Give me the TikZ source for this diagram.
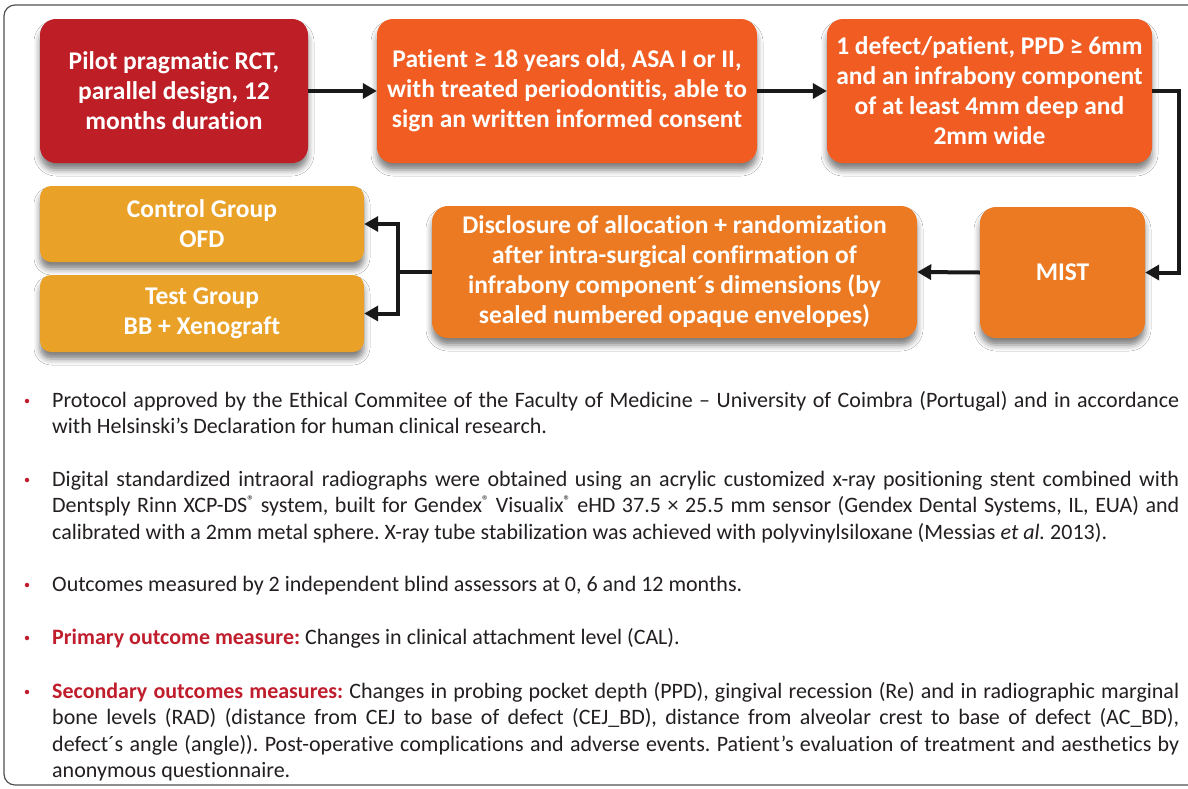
\documentclass[tikz,border=0pt]{standalone}
\usepackage{fontspec}
\setmainfont[Ligatures=NoCommon, Contextuals=NoAlternate]{Carlito}
\usetikzlibrary{arrows.meta,shadows.blur}
\definecolor{cRed}{RGB}{190,30,38}
\definecolor{cOrA}{RGB}{240,92,34}
\definecolor{cOrB}{RGB}{236,122,35}
\definecolor{cGold}{RGB}{233,161,40}
\definecolor{cTxtRed}{RGB}{192,30,45}
\definecolor{cFrame}{RGB}{80,80,80}
\definecolor{cBody}{RGB}{35,31,32}
\newcommand{\regmark}{\raisebox{0.3em}{\fontsize{14}{14}\selectfont ®}}
\frenchspacing
\begin{document}
\begin{tikzpicture}[x=1pt,y=-1pt,
  flowbox/.style={rounded corners=16pt, inner sep=0pt, align=center, text=white,
    font=\bfseries\fontsize{25.5}{30}\selectfont,
    blur shadow={shadow xshift=0pt, shadow yshift=-7pt, shadow blur radius=6pt, shadow opacity=50}},
  groupbox/.style={flowbox, rounded corners=11pt},
  arr/.style={line width=4pt, draw=black!90, -{Triangle[length=14pt,width=15pt]}},
  plainline/.style={line width=4pt, draw=black!90},
  bodytext/.style={anchor=base west, inner sep=0pt, text width=1127pt, align=justify,
    text=cBody, font=\fontsize{22}{26.5}\selectfont},
  bulletdot/.style={circle, fill=cTxtRed, inner sep=0pt, minimum size=4.5pt}
]
\useasboundingbox (0,0) rectangle (1188,788);
\fill[white] (0,0) rectangle (1188,788);
\draw[cFrame, line width=1.2pt, rounded corners=11pt] (1188,5) -- (4,5) -- (4,785) -- (1188,785);

% boxes
\node[flowbox, fill=cRed, minimum width=268pt, minimum height=144pt] (b1) at (174,91)
  {Pilot pragmatic RCT,\\parallel design, 12\\months duration};
\node[flowbox, fill=cOrA, minimum width=380pt, minimum height=144pt] (b2) at (567,91)
  {Patient ≥ 18 years old, ASA I or II,\\with treated periodontitis, able to\\sign an written informed consent};
\node[flowbox, fill=cOrA, minimum width=325pt, minimum height=144pt] (b3) at (989.5,91)
  {1 defect/patient, PPD ≥ 6mm\\and an infrabony component\\of at least 4mm deep and\\2mm wide};
\node[flowbox, fill=cOrB, minimum width=165pt, minimum height=131pt] (mist) at (1062.5,272.5)
  {MIST};
\node[flowbox, fill=cOrB, minimum width=485pt, minimum height=132pt] (disc) at (674.5,272)
  {Disclosure of allocation + randomization\\after intra-surgical confirmation of\\infrabony component´s dimensions (by\\sealed numbered opaque envelopes)};
\node[groupbox, fill=cGold, minimum width=324pt, minimum height=76pt] (ctrl) at (202,224)
  {Control Group\\OFD};
\node[groupbox, fill=cGold, minimum width=324pt, minimum height=77pt] (test) at (202,313.5)
  {Test Group\\BB + Xenograft};

% connectors
\coordinate (split) at (398,272);
\draw[arr] (b1.east) -- (b2.west);
\draw[arr] (b2.east) -- (b3.west);
\draw[arr] (b3.east) -- ++(27,0) |- (mist.east);
\draw[arr] (mist.west) -- (disc.east);
\draw[plainline] (disc.west) -- (split);
\draw[arr] ([yshift=-2pt]split) |- (ctrl.east);
\draw[arr] ([yshift=2pt]split) |- (test.east);

% bullet text
\node[bulletdot] (d1) at (27,401) {};
\node[bodytext] (t1) at (52,407)
  {Protocol approved by the Ethical Commitee of the Faculty of Medicine – University of Coimbra (Portugal) and in accordance\linebreak
   with Helsinski’s Declaration for human clinical research.};
\node[bulletdot] (d2) at (27,480) {};
\node[bodytext] (t2) at (52,486)
  {Digital standardized intraoral radiographs were obtained using an acrylic customized x-ray positioning stent combined with\linebreak
   Dentsply Rinn XCP-DS\regmark{} system, built for Gendex\regmark{} Visualix\regmark{} eHD 37.5 × 25.5 mm sensor (Gendex Dental Systems, IL, EUA) and\linebreak
   calibrated with a 2mm metal sphere. X-ray tube stabilization was achieved with polyvinylsiloxane (Messias \textit{et al.} 2013).};
\node[bulletdot] (d3) at (27,585) {};
\node[bodytext] (t3) at (52,591)
  {Outcomes measured by 2 independent blind assessors at 0, 6 and 12 months.};
\node[bulletdot] (d4) at (27,638) {};
\node[bodytext] (t4) at (52,644)
  {\textbf{\color{cTxtRed}Primary outcome measure:} Changes in clinical attachment level (CAL).};
\node[bulletdot] (d5) at (27,692) {};
\node[bodytext] (t5) at (52,698)
  {\textbf{\color{cTxtRed}Secondary outcomes measures:} Changes in probing pocket depth (PPD), gingival recession (Re) and in radiographic marginal\linebreak
   bone levels (RAD) (distance from CEJ to base of defect (CEJ\_BD), distance from alveolar crest to base of defect (AC\_BD),\linebreak
   defect´s angle (angle)). Post-operative complications and adverse events. Patient’s evaluation of treatment and aesthetics by\linebreak
   anonymous questionnaire.};
\end{tikzpicture}
\end{document}
